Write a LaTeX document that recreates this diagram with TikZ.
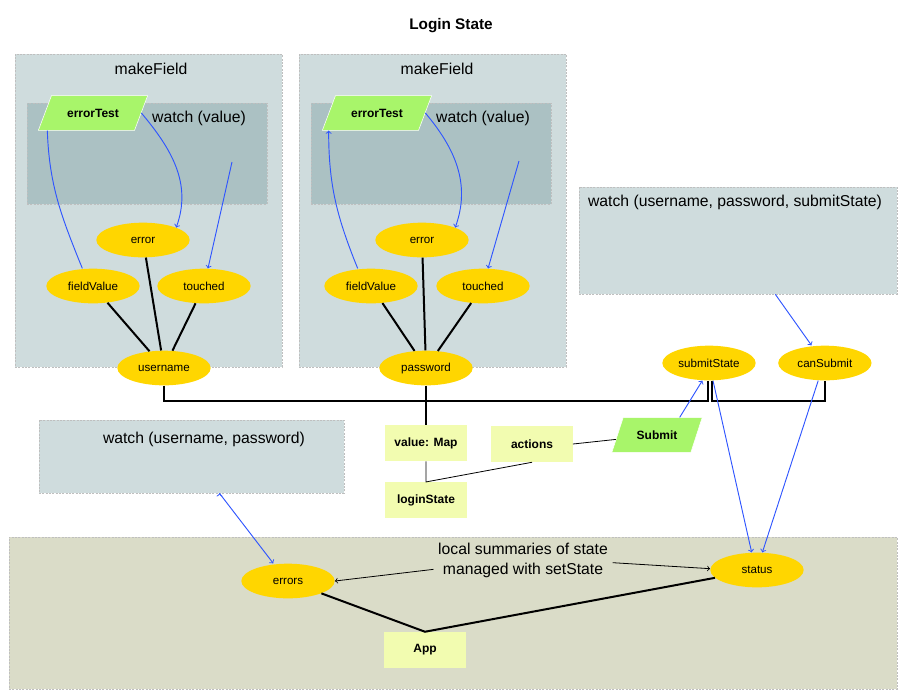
\documentclass[tikz,border=0pt]{standalone}
\usepackage{fontspec}
\setmainfont{Liberation Sans}
\usetikzlibrary{shapes.geometric,positioning}
\definecolor{panelfill}{HTML}{CFDCDD}
\definecolor{panelin}{HTML}{ABC1C3}
\definecolor{appfill}{HTML}{DADCC8}
\definecolor{stategold}{HTML}{FFD600}
\definecolor{actgreen}{HTML}{A8F56A}
\definecolor{notefill}{HTML}{F2FCB0}
\definecolor{watchblue}{HTML}{2F55FF}

\begin{document}
\begin{tikzpicture}
[
x=0.75pt, y=0.75pt,
panel/.style={rectangle, fill=panelfill, draw=gray!50, dash pattern=on 1.5pt off 1pt, line width=0.5pt, inner sep=0pt},
innerpanel/.style={panel, fill=panelin},
heading/.style={font=\fontsize{11.8}{15}\selectfont, align=center},
state/.style={ellipse, fill=stategold, minimum width=70pt, minimum height=26pt, inner sep=0pt, font=\fontsize{8.7}{10}\selectfont},
databox/.style={rectangle, fill=notefill, minimum width=61pt, minimum height=27pt, font=\bfseries\fontsize{9}{11}\selectfont},
act/.style={trapezium, trapezium left angle=61, trapezium right angle=119, trapezium stretches=true, minimum width=82pt, minimum height=26pt, fill=actgreen, draw=white, font=\bfseries\fontsize{9}{11}\selectfont},
wire/.style={draw=watchblue, line width=0.7pt},
link/.style={draw=black, line width=1.5pt},
note/.style={draw=black, line width=0.6pt}
]
\useasboundingbox (0,0) rectangle (903,-697);

%Panels
\node[panel, minimum width=200.25pt, minimum height=234.75pt]  (mf1)   at (148.5,-210.5) {};
\node[innerpanel, minimum width=180pt, minimum height=75.75pt] (wv1)   at (147,-153.5)   {};
\node[panel, minimum width=200.25pt, minimum height=234.75pt]  (mf2)   at (432.5,-210.5) {};
\node[innerpanel, minimum width=180pt, minimum height=75.75pt] (wv2)   at (431,-153.5)   {};
\node[panel, minimum width=238.5pt, minimum height=80.25pt]    (wups)  at (738,-240.5)   {};
\node[panel, minimum width=228.75pt, minimum height=54.75pt]   (wup)   at (191.5,-456.5) {};
\node[panel, fill=appfill, minimum width=666pt, minimum height=114pt] (local) at (453,-613) {};

%Labels
\node[font=\bfseries\fontsize{11.5}{14}\selectfont] (title) at (451,-26) {Login State};
\node[heading]  (mf1lbl)    at (151,-69)    {makeField};
\node[heading]  (mf2lbl)    at (437,-69)    {makeField};
\node[heading]  (wv1lbl)    at (199,-118)   {watch (value)};
\node[heading]  (wv2lbl)    at (483,-118)   {watch (value)};
\node[heading]  (wupslbl)   at (735,-202)   {watch (username, password, submitState)};
\node[heading]  (wuplbl)    at (204,-439)   {watch (username, password)};
\node[heading]  (summ)      at (523,-560)   {local summaries of state\\managed with setState};

%Nodes
\node[act]      (et1)       at (93,-113)    {errorTest};
\node[state]    (err1)      at (143,-240)   {error};
\node[state]    (fv1)       at (93,-286)    {fieldValue};
\node[state]    (to1)       at (204,-286)   {touched};
\node[state]    (user)      at (164,-368)   {username};

\node[act]      (et2)       at (377,-113)   {errorTest};
\node[state]    (err2)      at (422,-240)   {error};
\node[state]    (fv2)       at (371,-286)   {fieldValue};
\node[state]    (to2)       at (483,-286)   {touched};
\node[state]    (pass)      at (426,-368)   {password};

\node[state]    (subst)     at (709,-363)   {submitState};
\node[state]    (cansub)    [right=16.5pt of subst] {canSubmit};
\node[state]    (status)    at (757,-570)   {status};
\node[state]    (errors)    at (288,-581)   {errors};

\node[databox]  (vmap)      at (426,-443)   {value: Map};
\node[databox]  (login)     [below=15.5pt of vmap] {loginState};
\node[databox]  (actions)   at (532,-444)   {actions};
\node[databox]  (app)       at (425,-650)   {App};
\node[act, trapezium left angle=65, trapezium right angle=115, minimum width=68pt] (submit) at (657,-435) {Submit};

\coordinate (w1) at (232,-162);
\coordinate (w2) at (519,-161);
\coordinate (busy) at (0,-401);

%Lines
\path[link]
(fv1)   edge    (user)
(err1)  edge    (user)
(to1)   edge    (user)
(fv2)   edge    (pass)
(err2)  edge    (pass)
(to2)   edge    (pass)
(pass.south) edge (vmap.north);
\draw[link] (user.south) -- (user.south |- busy) -| ([xshift=-0.75pt]subst.south);
\draw[link] ([xshift=2.25pt]subst.south) |- (busy -| cansub) -- (cansub.south);
\draw[link] (errors) -- (app.north) -- (status);
\draw[note] (vmap.south) -- (login.north) -- (actions.south);
\draw[note] (actions.east) -- (submit);

\path[wire, ->]
(et1.east)  edge[out=-50, in=70]    (err1.north east)
(w1)        edge                    (to1)
(et2.east)  edge[out=-50, in=70]    (err2.north east)
(w2)        edge                    (to2)
([xshift=-10pt]fv2.north) edge[out=112, in=-90] ([xshift=5pt]et2.bottom left corner)
([xshift=17pt]submit.north) edge    ([xshift=-5pt]subst.south)
([xshift=3pt]subst.south)   edge    ([xshift=-4pt]status.north)
([xshift=-5pt]cansub.south) edge    ([xshift=4pt]status.north)
([xshift=28pt]wups.south)   edge    ([xshift=-10pt]cansub.north)
([xshift=21pt]wup.south)    edge    ([xshift=-11pt]errors.north);
\draw[wire] ([xshift=7pt]et1.bottom left corner) to[out=-88, in=112] ([xshift=-8pt]fv1.north);

%Notes
\draw[note, ->] ([yshift=-7pt]summ.west) -- (errors.east);
\draw[note, ->] ([yshift=-2pt]summ.east) -- ([yshift=1pt]status.west);

\end{tikzpicture}
\end{document}
